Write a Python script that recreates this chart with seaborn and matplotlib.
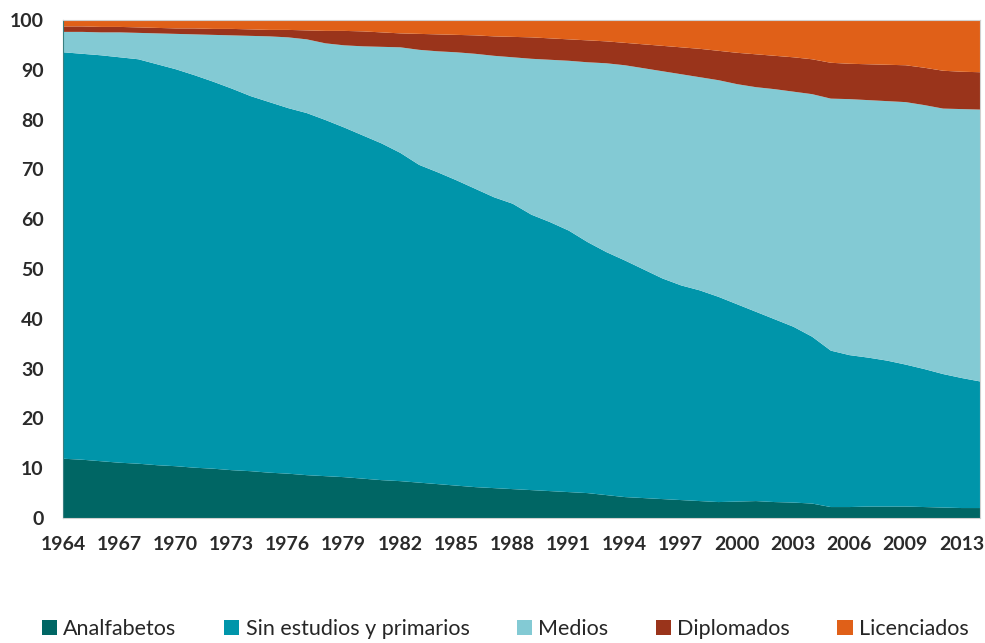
import matplotlib
matplotlib.use("Agg")
import matplotlib.pyplot as plt
import seaborn as sns
import numpy as np
from matplotlib.patches import Patch

categories = ["Analfabetos", "Sin estudios y primarios", "Medios", "Diplomados", "Licenciados"]
colors = ["#006664", "#0095AA", "#83CAD4", "#9A341B", "#E06018"]

tick_labels = ["1964", "1967", "1970", "1973", "1976", "1979", "1982", "1985", "1988",
               "1991", "1994", "1997", "2000", "2003", "2006", "2009", "2013"]
tick_index = [0, 3, 6, 9, 12, 15, 18, 21, 24, 27, 30, 33, 36, 39, 42, 45, 48]

analfabetos = [12.0, 11.8, 11.5, 11.2, 11.0, 10.7, 10.5, 10.2, 10.0, 9.7,
               9.5, 9.2, 9.0, 8.7, 8.5, 8.3, 8.0, 7.7, 7.5, 7.2,
               6.9, 6.6, 6.3, 6.1, 5.9, 5.7, 5.5, 5.3, 5.1, 4.7,
               4.3, 4.1, 3.9, 3.7, 3.5, 3.3, 3.4, 3.5, 3.3, 3.2,
               3.0, 2.3, 2.3, 2.4, 2.4, 2.4, 2.3, 2.2, 2.1, 2.1]
sin_estudios = [81.6, 81.5, 81.5, 81.4, 81.2, 80.5, 79.7, 78.8, 77.7, 76.6,
                75.3, 74.4, 73.4, 72.7, 71.5, 70.2, 68.9, 67.6, 65.9, 63.8,
                62.6, 61.3, 59.9, 58.4, 57.3, 55.3, 54.0, 52.5, 50.4, 48.8,
                47.5, 45.9, 44.3, 43.1, 42.3, 41.2, 39.6, 38.0, 36.7, 35.3,
                33.5, 31.4, 30.5, 29.9, 29.3, 28.5, 27.7, 26.8, 26.1, 25.4]
medios = [4.1, 4.4, 4.6, 5.0, 5.3, 6.2, 7.1, 8.2, 9.4, 10.7,
          12.1, 13.2, 14.2, 14.8, 15.4, 16.5, 17.9, 19.4, 21.2, 23.1,
          24.3, 25.7, 27.1, 28.4, 29.4, 31.3, 32.6, 34.1, 36.1, 37.9,
          39.2, 40.4, 41.6, 42.4, 42.8, 43.5, 44.2, 45.1, 46.2, 47.2,
          48.7, 50.6, 51.4, 51.7, 52.1, 52.7, 53.0, 53.3, 54.0, 54.6]
diplomados = [1.1, 1.1, 1.1, 1.1, 1.1, 1.1, 1.1, 1.2, 1.2, 1.3,
              1.3, 1.3, 1.5, 1.8, 2.5, 2.9, 3.0, 2.9, 2.8, 3.2,
              3.4, 3.5, 3.7, 3.9, 4.1, 4.3, 4.3, 4.3, 4.4, 4.4,
              4.5, 4.8, 5.1, 5.4, 5.7, 5.9, 6.3, 6.6, 6.7, 6.9,
              7.0, 7.2, 7.1, 7.2, 7.3, 7.4, 7.5, 7.6, 7.5, 7.5]
licenciados = [1.2, 1.2, 1.3, 1.3, 1.4, 1.5, 1.6, 1.6, 1.7, 1.7,
               1.8, 1.9, 1.9, 2.0, 2.1, 2.1, 2.2, 2.4, 2.6, 2.7,
               2.8, 2.9, 3.0, 3.2, 3.3, 3.4, 3.6, 3.8, 4.0, 4.2,
               4.5, 4.8, 5.1, 5.4, 5.7, 6.1, 6.5, 6.8, 7.1, 7.4,
               7.8, 8.5, 8.7, 8.8, 8.9, 9.0, 9.5, 10.1, 10.3, 10.4]

sns.set_theme(style="white")
plt.rcParams['font.family'] = ['Lato', 'DejaVu Sans']

fig = plt.figure(figsize=(9.85, 6.43), dpi=100)
ax = fig.add_axes([0.064, 0.1944, 0.931, 0.7746])

x = np.arange(len(analfabetos))
series = [analfabetos, sin_estudios, medios, diplomados, licenciados]
ax.stackplot(x, *series, colors=colors, linewidth=0)

ax.set_xlim(0, len(x) - 1)
ax.set_ylim(0, 100)
ax.set_yticks(range(0, 101, 10))
ax.set_xticks(tick_index)
ax.set_xticklabels(tick_labels)
ax.tick_params(axis='both', length=0, labelsize=14, colors="#2a2a2a")
ax.tick_params(axis='x', pad=13)
ax.tick_params(axis='y', pad=14)
for lab in ax.get_xticklabels() + ax.get_yticklabels():
    lab.set_fontweight('bold')

for s in ["top", "right", "bottom"]:
    ax.spines[s].set_color("#d0d0d0")
    ax.spines[s].set_linewidth(0.8)
ax.spines["left"].set_color("#3a7f80")
ax.spines["left"].set_linewidth(0.8)

handles = [Patch(facecolor=c, edgecolor='none') for c in colors]
fig.legend(handles, categories, loc='lower center', bbox_to_anchor=(0.513, -0.024),
           ncol=5, frameon=False, handlelength=0.7, handleheight=0.7,
           handletextpad=0.3, columnspacing=2.2,
           prop={'family': ['Lato', 'DejaVu Sans'], 'size': 15.5})

fig.savefig("out.png", dpi=100)
